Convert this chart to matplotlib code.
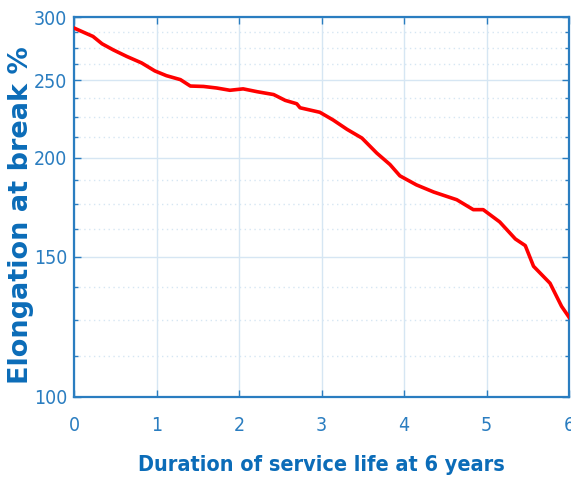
import matplotlib
matplotlib.use("Agg")
import matplotlib.pyplot as plt
import numpy as np
from matplotlib.ticker import FixedLocator, NullFormatter

# Valeurs (années, allongement à la rupture en %)
annees = [0.0, 0.13, 0.23, 0.34, 0.48, 0.64, 0.82, 0.98, 1.12, 1.29, 1.41,
          1.57, 1.73, 1.89, 2.05, 2.22, 2.42, 2.56, 2.70, 2.74, 2.98, 3.14,
          3.31, 3.49, 3.67, 3.83, 3.95, 4.15, 4.36, 4.64, 4.84, 4.96, 5.16,
          5.35, 5.47, 5.57, 5.77, 5.91, 6.0]
allongement = [291, 287, 284, 278, 273, 268, 263, 257, 253.5, 250.6, 246,
               245.7, 244.6, 243, 244, 242, 240, 236, 233.7, 231, 228, 223,
               217, 211.6, 202.6, 196, 189.7, 184.8, 181, 177, 172, 172, 166,
               158, 155, 146, 139, 130, 126]

x_ticks = [0, 1, 2, 3, 4, 5, 6]
y_ticks = [100, 150, 200, 250, 300]
y_minor = [112.5, 125, 137.5, 162.5, 175, 187.5, 212.5, 225, 237.5, 262.5, 275, 287.5]

bleu_axe = "#2a7dc0"
bleu_txt = "#0b6cb8"
bleu_grille = "#d6e6f3"

fig = plt.figure(figsize=(5.71, 4.79), dpi=100)
ax = fig.add_axes([0.1296, 0.1712, 0.8669, 0.7923])

ax.set_yscale("log")
ax.set_xlim(0, 6)
ax.set_ylim(100, 300)

ax.plot(annees, allongement, color="#ff0000", linewidth=2.6, zorder=3)

ax.set_xticks(x_ticks)
ax.set_yticks(y_ticks)
ax.yaxis.set_minor_locator(FixedLocator(y_minor))
ax.yaxis.set_minor_formatter(NullFormatter())
ax.set_yticklabels([str(v) for v in y_ticks])

ax.grid(True, which="major", color=bleu_grille, linewidth=1.0, linestyle="-")
ax.grid(True, which="minor", axis="y", color=bleu_grille, linewidth=1.0, linestyle=(0, (1, 2.5)))
ax.set_axisbelow(True)

for sp in ax.spines.values():
    sp.set_color(bleu_axe)
    sp.set_linewidth(1.6)

# police étroite si elle existe, sinon DejaVu
police_ticks = ["DejaVu Sans Condensed", "DejaVu Sans"]
ax.tick_params(which="major", direction="in", length=5, width=1, color=bleu_axe,
               labelcolor=bleu_axe, labelsize=14, top=True, right=True)
ax.tick_params(axis="x", which="major", pad=14)
ax.tick_params(axis="y", which="major", pad=5)
ax.tick_params(which="minor", direction="in", length=3, width=1, color=bleu_axe,
               top=False, right=True, left=True)
for lab in ax.get_xticklabels() + ax.get_yticklabels():
    lab.set_family(police_ticks)
    lab.set_stretch("condensed")

ax.set_xlabel("Duration of service life at 6 years", color=bleu_txt, fontsize=15.5,
              fontweight="bold", fontstretch="condensed", family=police_ticks)
ax.set_ylabel("Elongation at break %", color=bleu_txt, fontsize=19.5,
              fontweight="bold", family=["DejaVu Sans"])
ax.xaxis.set_label_coords(0.5, -0.152)
ax.yaxis.set_label_coords(-0.081, 0.479)

fig.savefig("out.png", dpi=100)
